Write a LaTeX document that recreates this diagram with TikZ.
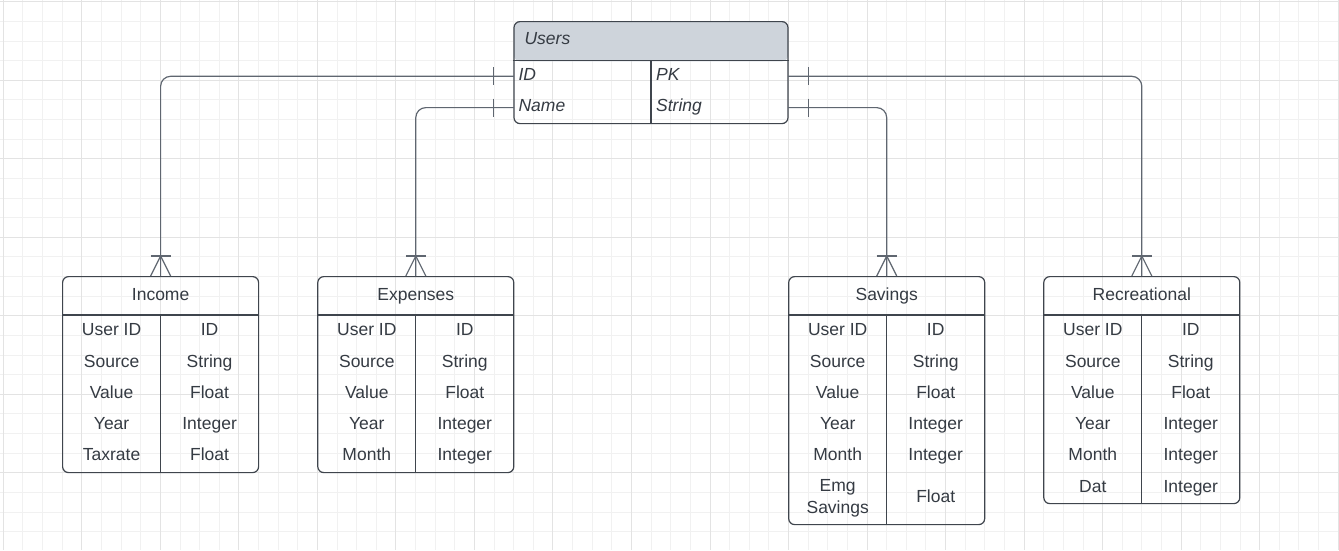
\documentclass[tikz,border=0pt]{standalone}
\usepackage{fontspec}
\setmainfont{Liberation Sans}
\usepackage{xcolor}
\usetikzlibrary{calc,positioning}

\definecolor{edge}{HTML}{3F454D}
\definecolor{wire}{HTML}{5F6670}
\definecolor{ink}{HTML}{353B43}
\definecolor{headfill}{HTML}{CED4DB}
\definecolor{gridminor}{HTML}{F1F1F1}
\definecolor{gridmajor}{HTML}{E3E3E3}

\tikzset{
	tbl/.style={draw=edge,line width=1.2pt,rounded corners=6pt,
		minimum width=196pt,inner sep=0pt,anchor=north},
	cell/.style={text=ink,inner sep=0pt,font=\fontsize{17.5}{22}\selectfont},
	ucell/.style={cell,font=\fontsize{17.5}{22}\selectfont\itshape,anchor=base west},
	sepline/.style={draw=edge,line width=1.2pt},
	link/.style={draw=wire,line width=1.2pt},
}

\begin{document}
\begin{tikzpicture}[x=1pt,y=-1pt]
	\useasboundingbox (0,0) rectangle (1339,550);
	\fill[white] (0,0) rectangle (1339,550);
	% background grid
	\foreach \i in {0,...,68}
		\draw[gridminor,line width=0.9pt] ({3.3+19.63*\i},0) -- ++(0,550);
	\foreach \i in {0,...,27}
		\draw[gridminor,line width=0.9pt] (0,{1.7+19.63*\i}) -- ++(1339,0);
	\foreach \i in {0,4,...,68}
		\draw[gridmajor,line width=0.9pt] ({3.3+19.63*\i},0) -- ++(0,550);
	\foreach \i in {0,4,...,24}
		\draw[gridmajor,line width=0.9pt] (0,{1.7+19.63*\i}) -- ++(1339,0);

	% Users
	\node[tbl,minimum width=274pt,minimum height=102pt,
		path picture={\fill[headfill] (path picture bounding box.north west)
			rectangle ([yshift=-39.7pt]path picture bounding box.north east);}]
		(users) at (651,21) {};
	\draw[sepline] ($(users.north west)+(0,39.7)$) -- ($(users.north east)+(0,39.7)$);
	\draw[sepline] ($(users.north)+(0,39.7)$) -- (users.south);
	\node[ucell] (users-title) at ($(users.north west)+(11,23.3)$) {Users};
	\node[inner sep=0pt,minimum width=274pt,minimum height=31.2pt] (uid)
		at ($(users.north)+(0,55.3)$) {};
	\node[inner sep=0pt,minimum width=274pt,minimum height=31.2pt] (uname)
		at ($(users.north)+(0,86.6)$) {};
	\node[ucell] (uid-k) at ($(users.north west)+(5,59.7)$) {ID};
	\node[ucell] (uid-v) at ($(users.north)+(5,59.7)$) {PK};
	\node[ucell] (uname-k) at ($(users.north west)+(5,90)$) {Name};
	\node[ucell] (uname-v) at ($(users.north)+(5,90)$) {String};

	% Income
	\node[tbl,minimum height=196pt] (income) at (160.6,276) {};
	\draw[sepline] ($(income.north west)+(0,39)$) -- ($(income.north east)+(0,39)$);
	\draw[sepline] ($(income.north)+(0,39)$) -- (income.south);
	\node[cell,anchor=base] (income-title) at ($(income.north)+(0,24)$) {Income};
	\foreach \a/\b [count=\i] in {User ID/ID,Source/String,Value/Float,
		Year/Integer,Taxrate/Float} {
		\node[cell,anchor=base] (income-k\i) at ($(income.north)+(-49,{59.7+31.3*(\i-1)})$) {\a};
		\node[cell,anchor=base] (income-v\i) at ($(income.north)+(49,{59.7+31.3*(\i-1)})$) {\b};
	}

	% Expenses
	\node[tbl,minimum height=196pt] (expenses) at (415.8,276) {};
	\draw[sepline] ($(expenses.north west)+(0,39)$) -- ($(expenses.north east)+(0,39)$);
	\draw[sepline] ($(expenses.north)+(0,39)$) -- (expenses.south);
	\node[cell,anchor=base] (expenses-title) at ($(expenses.north)+(0,24)$) {Expenses};
	\foreach \a/\b [count=\i] in {User ID/ID,Source/String,Value/Float,
		Year/Integer,Month/Integer} {
		\node[cell,anchor=base] (expenses-k\i) at ($(expenses.north)+(-49,{59.7+31.3*(\i-1)})$) {\a};
		\node[cell,anchor=base] (expenses-v\i) at ($(expenses.north)+(49,{59.7+31.3*(\i-1)})$) {\b};
	}

	% Savings
	\node[tbl,minimum height=248pt] (savings) at (886.7,276) {};
	\draw[sepline] ($(savings.north west)+(0,39)$) -- ($(savings.north east)+(0,39)$);
	\draw[sepline] ($(savings.north)+(0,39)$) -- (savings.south);
	\node[cell,anchor=base] (savings-title) at ($(savings.north)+(0,24)$) {Savings};
	\foreach \a/\b [count=\i] in {User ID/ID,Source/String,Value/Float,
		Year/Integer,Month/Integer} {
		\node[cell,anchor=base] (savings-k\i) at ($(savings.north)+(-49,{59.7+31.3*(\i-1)})$) {\a};
		\node[cell,anchor=base] (savings-v\i) at ($(savings.north)+(49,{59.7+31.3*(\i-1)})$) {\b};
	}
	\node[cell,align=center] (savings-k6) at ($(savings.north)+(-49,222.3)$) {Emg\\Savings};
	\node[cell,anchor=base] (savings-v6) at ($(savings.north)+(49,226.2)$) {Float};

	% Recreational
	\node[tbl,minimum height=227pt] (recreational) at (1141.8,276) {};
	\draw[sepline] ($(recreational.north west)+(0,39)$) -- ($(recreational.north east)+(0,39)$);
	\draw[sepline] ($(recreational.north)+(0,39)$) -- (recreational.south);
	\node[cell,anchor=base] (recreational-title) at ($(recreational.north)+(0,24)$) {Recreational};
	\foreach \a/\b [count=\i] in {User ID/ID,Source/String,Value/Float,
		Year/Integer,Month/Integer,Dat/Integer} {
		\node[cell,anchor=base] (recreational-k\i) at ($(recreational.north)+(-49,{59.7+31.3*(\i-1)})$) {\a};
		\node[cell,anchor=base] (recreational-v\i) at ($(recreational.north)+(49,{59.7+31.3*(\i-1)})$) {\b};
	}

	% relations: one (Users) to many
	\foreach \t/\r/\s/\d in {income/uid/west/-1,expenses/uname/west/-1,
		savings/uname/east/1,recreational/uid/east/1} {
		\draw[link,rounded corners=10pt] (\r.\s) -| (\t.north);
		\draw[link] ($(\r.\s)+({20*\d},-9)$) -- ++(0,18);
		\draw[link] ($(\t.north)+(-10,-20)$) -- ++(20,0);
		\draw[link] ($(\t.north)+(-10,0)$) -- ++(10,-20) -- ++(10,20);
	}
\end{tikzpicture}
\end{document}
